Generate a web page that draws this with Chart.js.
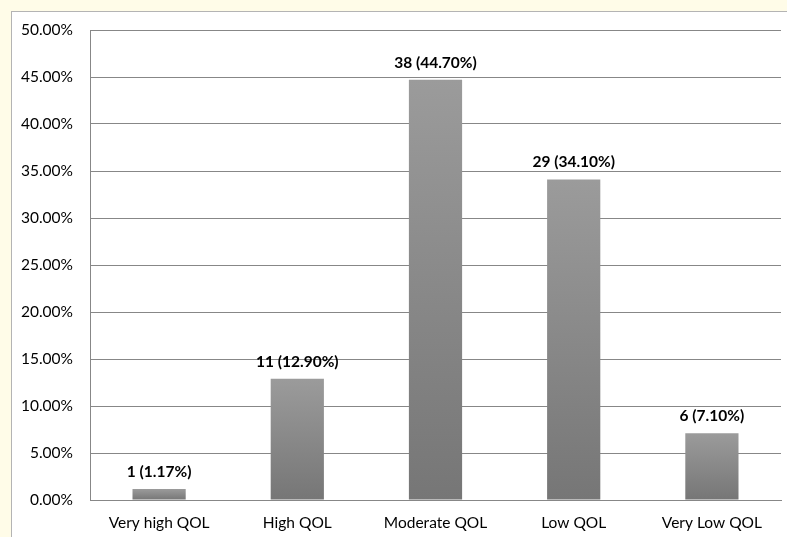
<!DOCTYPE html>
<html>
<head>
<meta charset="utf-8">
<script src="https://cdn.jsdelivr.net/npm/chart.js@4"></script>
<style>
  html, body { margin: 0; padding: 0; background: #fffce8; overflow: hidden; }
  #frame {
    position: absolute; left: 11px; top: 11px;
    width: 790px; height: 540px;
    background: #ffffff; border: 1px solid #b4b4b4;
  }
  canvas { position: absolute; left: 0; top: 0; }
</style>
</head>
<body>
<div id="frame"><canvas id="c" width="776" height="526"></canvas></div>
<script>
// Quality-of-life categories and their counts / shares
const categories = ['Very high QOL', 'High QOL', 'Moderate QOL', 'Low QOL', 'Very Low QOL'];
const counts = [1, 11, 38, 29, 6];
const percents = [1.17, 12.90, 44.70, 34.10, 7.10];
const yTicks = [0, 5, 10, 15, 20, 25, 30, 35, 40, 45, 50];

const FONT = 'Lato, "Liberation Sans", sans-serif';

// Vertical gray gradient for each bar, from its top down to the baseline
function barFill(ctx) {
  const chart = ctx.chart;
  const y = chart.scales.y;
  if (!chart.chartArea || !y || ctx.dataIndex === undefined) return '#888888';
  const top = y.getPixelForValue(percents[ctx.dataIndex]);
  const bottom = y.getPixelForValue(0);
  if (!isFinite(top) || !isFinite(bottom)) return '#888888';
  const g = chart.ctx.createLinearGradient(0, top, 0, bottom);
  g.addColorStop(0, '#9b9b9b');
  g.addColorStop(1, '#767676');
  return g;
}

// Bold "count (percent%)" caption above every bar
const valueLabels = {
  id: 'valueLabels',
  afterDatasetsDraw(chart) {
    const ctx = chart.ctx;
    const meta = chart.getDatasetMeta(0);
    ctx.save();
    ctx.font = 'bold 15.5px ' + FONT;
    ctx.fillStyle = '#000000';
    ctx.textAlign = 'center';
    ctx.textBaseline = 'alphabetic';
    meta.data.forEach((bar, i) => {
      const txt = counts[i] + ' (' + percents[i].toFixed(2) + '%)';
      ctx.fillText(txt, bar.x, bar.y - 12);
    });
    ctx.restore();
  }
};

new Chart(document.getElementById('c'), {
  type: 'bar',
  data: {
    labels: categories,
    datasets: [{
      data: percents,
      backgroundColor: barFill,
      borderWidth: 0,
      categoryPercentage: 1,
      barPercentage: 0.385
    }]
  },
  options: {
    responsive: false,
    animation: false,
    layout: { padding: { top: 18, right: 7, left: 0, bottom: 0 } },
    plugins: { legend: { display: false }, tooltip: { enabled: false } },
    scales: {
      y: {
        min: 0, max: 50,
        afterFit(scale) { scale.width = 78; scale.paddingTop = 0; scale.paddingBottom = 0; },
        afterBuildTicks(scale) { scale.ticks = yTicks.map(v => ({ value: v })); },
        grid: { color: '#878787', lineWidth: 1, drawTicks: false },
        border: { display: true, color: '#878787', width: 1 },
        ticks: {
          padding: 17,
          color: '#000000',
          font: { family: FONT, size: 15.5 },
          callback: v => v.toFixed(2) + '%'
        }
      },
      x: {
        afterFit(scale) { scale.height = 38; scale.paddingLeft = 0; scale.paddingRight = 0; },
        grid: { display: false, drawTicks: false },
        border: { display: true, color: '#878787', width: 1 },
        ticks: {
          padding: 14,
          color: '#000000',
          font: { family: FONT, size: 15.5 }
        }
      }
    }
  },
  plugins: [valueLabels]
});
</script>
</body>
</html>
